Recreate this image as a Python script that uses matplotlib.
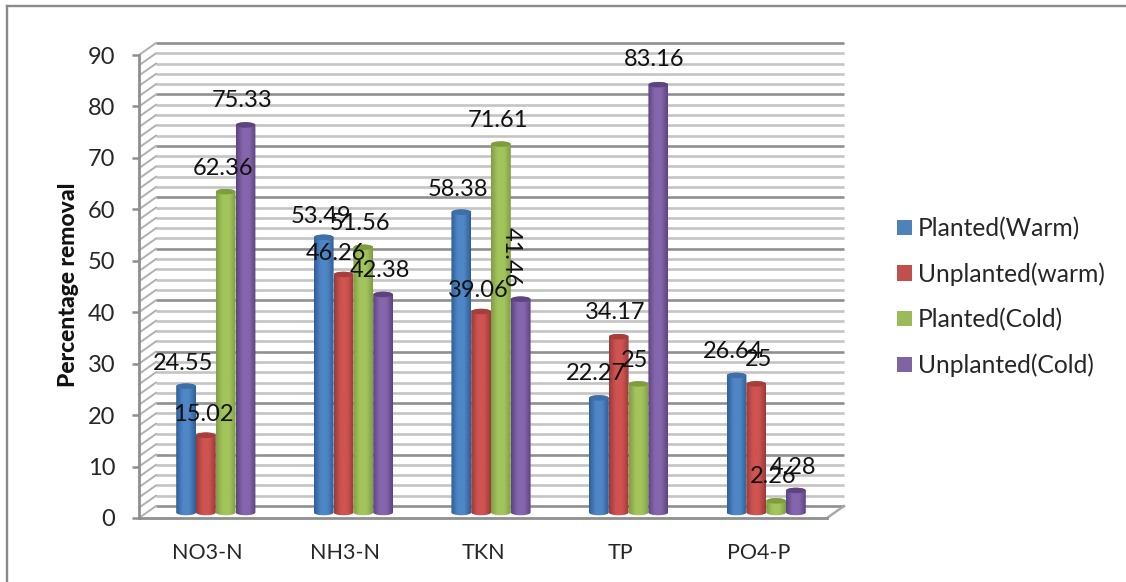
import numpy as np
import matplotlib
matplotlib.use("Agg")
import matplotlib.pyplot as plt
from matplotlib.colors import LinearSegmentedColormap
from matplotlib.lines import Line2D
from matplotlib.patches import Ellipse, Patch, Polygon

categories = ["NO3-N", "NH3-N", "TKN", "TP", "PO4-P"]
series_names = ["Planted(Warm)", "Unplanted(warm)", "Planted(Cold)", "Unplanted(Cold)"]
planted_warm = [24.55, 53.49, 58.38, 22.27, 26.64]
unplanted_warm = [15.02, 46.26, 39.06, 34.17, 25]
planted_cold = [62.36, 51.56, 71.61, 25, 2.26]
unplanted_cold = [75.33, 42.38, 41.46, 83.16, 4.28]
y_ticks = list(range(0, 100, 10))

# label offsets from the top centre of each bar, in pixels (right, up)
label_offsets = [
    [(-3, 23), (-3, 21), (-3, 23), (-3, 24), (-3, 24)],
    [(-3, 21), (-8, 21), (-3, 21), (-4, 24), (2, 24)],
    [(-3, 23), (-3, 24), (-3, 24), (-4, 23), (-3, 24)],
    [(-3, 24), (-3, 24), (-9, 42), (-4, 25), (-3, 23)],
]

W, H = 1126, 582
DPI = 100
FONT = "Lato"
TEXT = "#262626"
plt.rcParams["font.family"] = FONT

fig = plt.figure(figsize=(W / DPI, H / DPI), dpi=DPI, facecolor="white")
ax = fig.add_axes([139 / W, (H - 518) / H, 688 / W, 463 / H])
ax.set_xlim(-0.5, 4.5)
ax.set_ylim(0, 90)

px_x = 5 / 688          # data units per horizontal pixel
px_y = 90 / 463         # data units per vertical pixel
depth_x, depth_y = 17 * px_x, 12 * px_y

# outer frame
frame = "#8a8a8a"
fig.add_artist(Line2D([7 / W, 1], [1 - 6 / H] * 2, color=frame, lw=1.7))
fig.add_artist(Line2D([7 / W] * 2, [0, 1 - 6 / H], color=frame, lw=1.7))

# back wall, side wall and floor
for v in range(0, 92, 2):
    major = v % 10 == 0
    c = "#8f8f8f" if major else "#c4c4c4"
    ax.plot([-0.5 + depth_x, 4.5 + depth_x], [v + depth_y] * 2, color=c, lw=1.9,
            clip_on=False, zorder=1, solid_capstyle="butt")
    ax.plot([-0.5, -0.5 + depth_x], [v, v + depth_y], color="#b0b0b0", lw=1.4,
            clip_on=False, zorder=1)
ax.plot([4.5, 4.5 + depth_x], [0, depth_y], color="#a6a6a6", lw=1.7, clip_on=False, zorder=1)

# cylinder bars
palette = [
    ("#2f5f98", "#4f86c6", "#3d6fa8"),
    ("#9a3b39", "#cf5350", "#a53f3c"),
    ("#7f9f45", "#a3c45c", "#7f9c3f"),
    ("#5f4482", "#8566ac", "#5d4380"),
]
width = 19.8 * px_x
base = 5.5 * px_y
cap_h = 5.5 * px_y
shift = 8 * px_x
series = [planted_warm, unplanted_warm, planted_cold, unplanted_cold]
theta = np.linspace(0, np.pi, 30)
for j, values in enumerate(series):
    dark, light, cap = palette[j]
    cmap = LinearSegmentedColormap.from_list("c", [dark, light, light, dark])
    xs = np.arange(5) + shift + (j - 1.5) * width
    bars = ax.bar(xs, values, width=width, bottom=base, color=light, linewidth=0, zorder=3)
    for i, (bar, v) in enumerate(zip(bars, values)):
        x = xs[i]
        top = base + v
        arc = np.cos(theta) * width / 2
        lift = np.sin(theta) * cap_h / 2
        outline = np.r_[np.c_[x + arc, top + lift], np.c_[x - arc, base - lift]]
        clip = Polygon(outline, closed=True, transform=ax.transData, facecolor="none", edgecolor="none")
        bar.set_visible(False)
        ax.add_patch(clip)
        im = ax.imshow(np.linspace(0, 1, 32)[None, :], cmap=cmap, aspect="auto", zorder=3 + j * 0.1,
                       extent=(x - width / 2, x + width / 2, base - cap_h, top + cap_h),
                       interpolation="bilinear")
        im.set_clip_path(clip)
        ax.add_patch(Ellipse((x, top), width * 0.97, cap_h, facecolor=cap, edgecolor="none",
                             zorder=3.05 + j * 0.1, clip_on=False))
        dx, dy = label_offsets[j][i]
        rot = -90 if (j == 3 and i == 2) else 0
        ax.annotate(str(v), (x, top), xytext=(dx * 0.72, dy * 0.72), textcoords="offset points",
                    ha="center", va="center", rotation=rot, fontsize=17, color="#111111",
                    zorder=10, annotation_clip=False)
ax.set_xlim(-0.5, 4.5)
ax.set_ylim(0, 90)

# axes
ax.set_facecolor("none")
for s in ("top", "right"):
    ax.spines[s].set_visible(False)
for s in ("left", "bottom"):
    ax.spines[s].set_color("#8f8f8f")
    ax.spines[s].set_linewidth(2.0)
    ax.spines[s].set_zorder(2)
ax.set_yticks(y_ticks)
ax.tick_params(axis="y", length=5, width=1.8, color="#8f8f8f", pad=12, labelsize=17, labelcolor=TEXT)
ax.set_xticks(range(5), categories)
ax.tick_params(axis="x", length=0, pad=18, labelsize=15.5, labelcolor=TEXT)
ax.set_ylabel("Percentage removal", fontsize=16.5, fontweight="black", color="#111111")
ax.yaxis.set_label_coords(-0.087, 0.503)

handles = [Patch(facecolor=c, edgecolor="none")
           for c in ["#4f81bd", "#c0504d", "#9bbb59", "#8064a2"]]
fig.legend(handles, series_names, loc="center left", bbox_to_anchor=(897 / W, (H - 297) / H),
           frameon=False, fontsize=17.7, labelcolor=TEXT, handlelength=0.6, handleheight=0.6,
           handletextpad=0.25, labelspacing=0.9, borderpad=0, borderaxespad=0)

fig.savefig("out.png", dpi=DPI, facecolor="white")
